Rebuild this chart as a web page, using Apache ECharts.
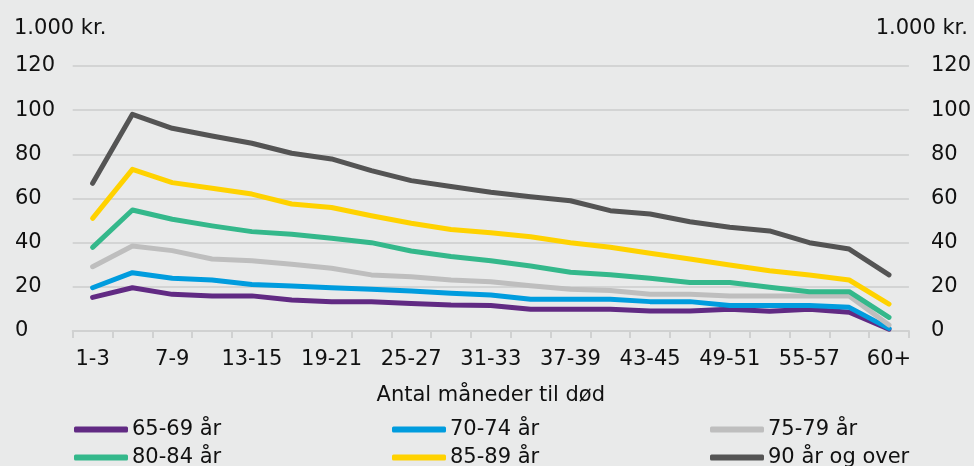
<!DOCTYPE html>
<html>
<head>
<meta charset="utf-8">
<script src="https://cdn.jsdelivr.net/npm/echarts@6/dist/echarts.min.js"></script>
<style>
  html, body { margin: 0; padding: 0; background: #E9EAEA; }
  #chart { width: 974px; height: 466px; }
</style>
</head>
<body>
<div id="chart"></div>
<script>
// Months until death, grouped in three-month bands
const categories = ['1-3', '4-6', '7-9', '10-12', '13-15', '16-18', '19-21', '22-24', '25-27', '28-30',
  '31-33', '34-36', '37-39', '40-42', '43-45', '46-48', '49-51', '52-54', '55-57', '58-60', '60+'];

// Average cost per age group (1.000 kr.)
const age65to69 = [15.2, 19.6, 16.6, 15.9, 15.9, 14.0, 13.3, 13.3, 12.5, 11.8, 11.5, 9.8, 9.8, 9.8, 9.1, 9.1, 9.8, 8.9, 9.8, 8.5, 0.8];
const age70to74 = [19.6, 26.4, 23.9, 23.1, 21.1, 20.4, 19.6, 18.9, 18.1, 17.1, 16.3, 14.4, 14.4, 14.4, 13.3, 13.3, 11.5, 11.5, 11.5, 10.7, 1.2];
const age75to79 = [29.1, 38.5, 36.4, 32.6, 31.8, 30.2, 28.4, 25.4, 24.6, 23.1, 22.3, 20.5, 18.9, 18.3, 16.6, 16.6, 15.9, 15.9, 15.9, 15.9, 2.7];
const age80to84 = [37.9, 54.8, 50.6, 47.6, 45.0, 43.8, 42.0, 40.0, 36.2, 33.7, 31.8, 29.4, 26.6, 25.5, 23.9, 22.0, 22.0, 19.8, 17.8, 17.8, 6.2];
const age85to89 = [51.0, 73.2, 67.2, 64.6, 62.0, 57.5, 55.9, 52.2, 48.8, 46.0, 44.5, 42.7, 40.0, 37.9, 35.2, 32.6, 29.9, 27.3, 25.4, 23.1, 12.2];
const age90plus = [66.9, 98.1, 91.8, 88.3, 85.0, 80.5, 77.9, 72.6, 68.1, 65.4, 62.8, 60.8, 59.0, 54.5, 53.0, 49.5, 47.0, 45.3, 40.0, 37.1, 25.4];

const seriesNames = ['65-69 år', '70-74 år', '75-79 år', '80-84 år', '85-89 år', '90 år og over'];
const seriesValues = [age65to69, age70to74, age75to79, age80to84, age85to89, age90plus];
const seriesColors = ['#612A83', '#009CDE', '#BEBEBE', '#34B88B', '#FFD200', '#545454'];

const yTicks = { min: 0, max: 120, interval: 20 };
const unitLabel = '1.000 kr.';
const xAxisTitle = 'Antal måneder til død';

const FONT = 'DejaVu Sans';
const TEXT = '#111111';
const FS = 21;

const chart = echarts.init(document.getElementById('chart'), null, { renderer: 'canvas' });

// Legend: three columns, two rows; one legend block per entry
const legendCols = [74, 392, 710];
const legendRows = [419, 447];
const legends = seriesNames.map((name, i) => ({
  left: legendCols[i % 3], top: legendRows[Math.floor(i / 3)],
  padding: 0, itemWidth: 54, itemHeight: 6, icon: 'roundRect', itemGap: 0,
  textStyle: { fontFamily: FONT, fontSize: FS, color: TEXT, padding: [0, 0, 0, -1] },
  selectedMode: false, data: [name]
}));

chart.setOption({
  backgroundColor: '#E9EAEA',
  animation: false,
  title: [
    { text: unitLabel, left: 14, top: 18, padding: 0, textStyle: { fontFamily: FONT, fontSize: FS, fontWeight: 'normal', color: TEXT } },
    { text: unitLabel, right: 6, top: 18, padding: 0, textStyle: { fontFamily: FONT, fontSize: FS, fontWeight: 'normal', color: TEXT } }
  ],
  grid: { left: 72.7, right: 64, top: 66, bottom: 135, containLabel: false },
  xAxis: {
    type: 'category', data: categories, boundaryGap: true,
    name: xAxisTitle, nameLocation: 'middle', nameGap: 54,
    nameTextStyle: { fontFamily: FONT, fontSize: FS, color: TEXT },
    axisLine: { lineStyle: { color: '#D0D1D1', width: 2 } },
    axisTick: { show: true, interval: 0, length: 7, lineStyle: { color: '#D0D1D1', width: 2 } },
    axisLabel: { interval: 1, margin: 18, fontFamily: FONT, fontSize: FS, color: TEXT }
  },
  yAxis: [
    {
      type: 'value', position: 'left', ...yTicks,
      axisLine: { show: false }, axisTick: { show: false },
      splitLine: { lineStyle: { color: '#D3D4D4', width: 2 } },
      axisLabel: { align: 'left', margin: 57.7, fontFamily: FONT, fontSize: FS, color: TEXT }
    },
    {
      type: 'value', position: 'right', ...yTicks,
      axisLine: { show: false }, axisTick: { show: false }, splitLine: { show: false },
      axisLabel: { align: 'left', margin: 22, fontFamily: FONT, fontSize: FS, color: TEXT }
    }
  ],
  legend: legends,
  series: seriesNames.map((name, i) => ({
    name: name, type: 'line', data: seriesValues[i], yAxisIndex: 0,
    showSymbol: false, symbol: 'none', smooth: false,
    lineStyle: { color: seriesColors[i], width: 5, cap: 'round', join: 'round' },
    itemStyle: { color: seriesColors[i] },
    emphasis: { disabled: true }
  }))
});
</script>
</body>
</html>
